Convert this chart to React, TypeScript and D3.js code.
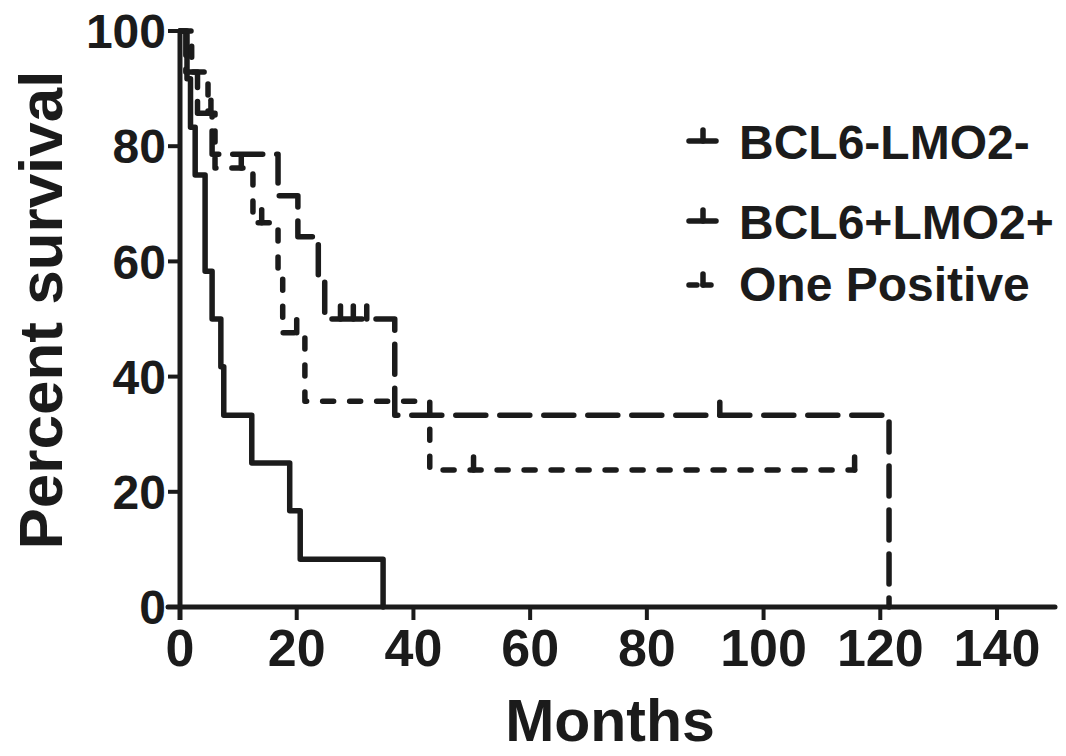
import React from "react";
import * as d3 from "d3";

// ---- Data ----
const xTicks = [0, 20, 40, 60, 80, 100, 120, 140];
const yTicks = [0, 20, 40, 60, 80, 100];

const negTimes = [0, 1.2, 1.8, 2.6, 4.3, 4.3, 5.5, 7, 7.5, 12.3, 18.8, 20.6, 34.8];
const negSurv = [100, 91.7, 83.3, 75, 66.7, 58.3, 50, 41.7, 33.3, 25, 16.7, 8.3, 0];
const negCensor: number[] = [];

const posTimes = [0, 1, 3, 5.5, 16.8, 20.2, 23.7, 24.8, 36.8, 121.5];
const posSurv = [100, 92.9, 85.7, 78.6, 71.4, 64.3, 57.1, 50, 33.3, 0];
const posCensor = [27.5, 29.7, 32, 92.5];

const oneTimes = [0, 2, 4.8, 6, 12.5, 16.8, 17.6, 21.4, 42.8, 115.6];
const oneSurv = [100, 92.9, 85.7, 76.2, 66.7, 57.1, 47.6, 35.7, 23.8, 23.8];
const oneCensor = [5.3, 10.5, 14, 20, 50.3, 115.6];

const seriesNames = ["BCL6-LMO2-", "BCL6+LMO2+", "One Positive"];

const FONT = "'Liberation Sans', Arial, Helvetica, sans-serif";
const INK = "#1b1b1b";

export default function App() {
  const x = d3.scaleLinear().domain([0, 140]).range([180, 997]);
  const y = d3.scaleLinear().domain([0, 100]).range([607, 31]);

  const series = [
    { name: seriesNames[0], t: negTimes, s: negSurv, c: negCensor, dash: "none" },
    { name: seriesNames[1], t: posTimes, s: posSurv, c: posCensor, dash: "30 14" },
    { name: seriesNames[2], t: oneTimes, s: oneSurv, c: oneCensor, dash: "11 16" },
  ];

  const line = d3
    .line<[number, number]>()
    .x((d) => x(d[0]))
    .y((d) => y(d[1]))
    .curve(d3.curveStepAfter);

  const survAt = (t: number[], s: number[], tt: number) => {
    let v = s[0];
    for (let i = 0; i < t.length; i++) if (t[i] <= tt) v = s[i];
    return v;
  };

  const sw = 5.5;
  const legendBase = [159, 239, 301];
  const legendSymY = [141, 221, 285];

  return (
    <svg
      width={1066}
      height={756}
      style={{ position: "absolute", left: 0, top: 0, background: "#fff" }}
      fontFamily={FONT}
      fontWeight="bold"
    >
      <rect width={1066} height={756} fill="#fff" />
      {/* curves */}
      {series.map((se, i) => {
        const pts = se.t.map((t, k) => [t, se.s[k]] as [number, number]);
        return (
          <g key={i}>
            <path
              d={line(pts) || ""}
              fill="none"
              stroke={INK}
              strokeWidth={sw}
              strokeDasharray={se.dash}
              strokeLinecap="round"
              strokeLinejoin="round"
            />
            {se.c.map((ct, j) => {
              const v = survAt(se.t, se.s, ct);
              return (
                <line
                  key={j}
                  x1={x(ct)}
                  x2={x(ct)}
                  y1={y(v)}
                  y2={y(v) - 13}
                  stroke={INK}
                  strokeWidth={sw}
                  strokeLinecap="round"
                />
              );
            })}
          </g>
        );
      })}

      {/* axes */}
      <line x1={180} x2={180} y1={y(100)} y2={620} stroke={INK} strokeWidth={5} />
      <line x1={168} x2={1055} y1={y(0)} y2={y(0)} stroke={INK} strokeWidth={5} strokeLinecap="round" />
      {yTicks.map((v) => (
        <g key={v}>
          <line x1={168} x2={180} y1={y(v)} y2={y(v)} stroke={INK} strokeWidth={4} />
          <text x={166} y={y(v)} dy="0.36em" textAnchor="end" fontSize={48} fill={INK}>
            {v}
          </text>
        </g>
      ))}
      {xTicks.map((v) => (
        <g key={v}>
          <line x1={x(v)} x2={x(v)} y1={y(0)} y2={y(0) + 13} stroke={INK} strokeWidth={4} />
          <text x={x(v)} y={666} textAnchor="middle" fontSize={52} fill={INK}>
            {v}
          </text>
        </g>
      ))}

      {/* axis titles */}
      <text
        transform={`translate(62,310) rotate(-90)`}
        textAnchor="middle"
        fontSize={62}
        fill={INK}
      >
        Percent survival
      </text>
      <text x={610} y={741} textAnchor="middle" fontSize={59} fill={INK}>
        Months
      </text>

      {/* legend */}
      {series.map((se, i) => (
        <g key={"lg" + i}>
          <line
            x1={689}
            x2={716}
            y1={legendSymY[i]}
            y2={legendSymY[i]}
            stroke={INK}
            strokeWidth={sw}
            strokeDasharray={i === 2 ? "8 6" : "none"}
            strokeLinecap="round"
          />
          <line
            x1={703}
            x2={703}
            y1={legendSymY[i]}
            y2={legendSymY[i] - 11}
            stroke={INK}
            strokeWidth={sw}
            strokeLinecap="round"
          />
          <text x={739} y={legendBase[i]} fontSize={48} fill={INK}>
            {se.name}
          </text>
        </g>
      ))}
    </svg>
  );
}
